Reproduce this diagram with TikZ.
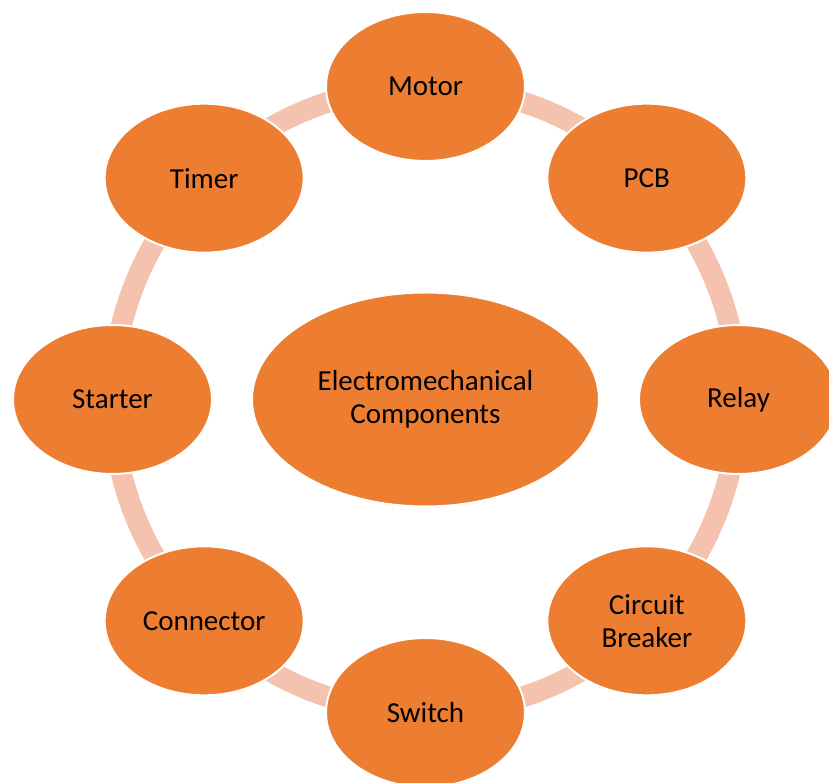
\documentclass[tikz,border=0pt]{standalone}
\usepackage{fontspec}
\setmainfont{Carlito}
\usetikzlibrary{shapes.geometric,backgrounds}
\definecolor{CycleOrange}{HTML}{ED7D31}
\definecolor{RingPink}{HTML}{F4C2AE}

\begin{document}
\begin{tikzpicture}[x=1pt,y=1pt,
    part/.style={ellipse,fill=CycleOrange,draw=white,line width=2pt,
      minimum width=199pt,minimum height=149pt,inner sep=0pt,
      align=center,font=\fontsize{29}{33}\selectfont},
    ring/.style={RingPink,line width=21pt}]
    \useasboundingbox (-425.5,-383.5) rectangle (403.5,399.5);
    \node[part,minimum width=347pt,minimum height=214pt] (core) at (0,0)
      {Electromechanical\\Components};
    \foreach \ang/\name/\txt in {90/motor/Motor,45/pcb/PCB,0/relay/Relay,
      -45/breaker/{Circuit\\Breaker},-90/switch/Switch,-135/connector/Connector,
      180/starter/Starter,135/timer/Timer}{
      \node[part] (\name) at (\ang:313) {\txt};}
    % ring segments between the outer parts
    \begin{scope}[on background layer]
      \foreach \a/\b in {motor/pcb,pcb/relay,relay/breaker,breaker/switch,
        switch/connector,connector/starter,starter/timer,timer/motor}{
        \draw[ring] (\a.center) to[bend left=22.5,looseness=0.885] (\b.center);}
    \end{scope}
  \end{tikzpicture}
\end{document}
